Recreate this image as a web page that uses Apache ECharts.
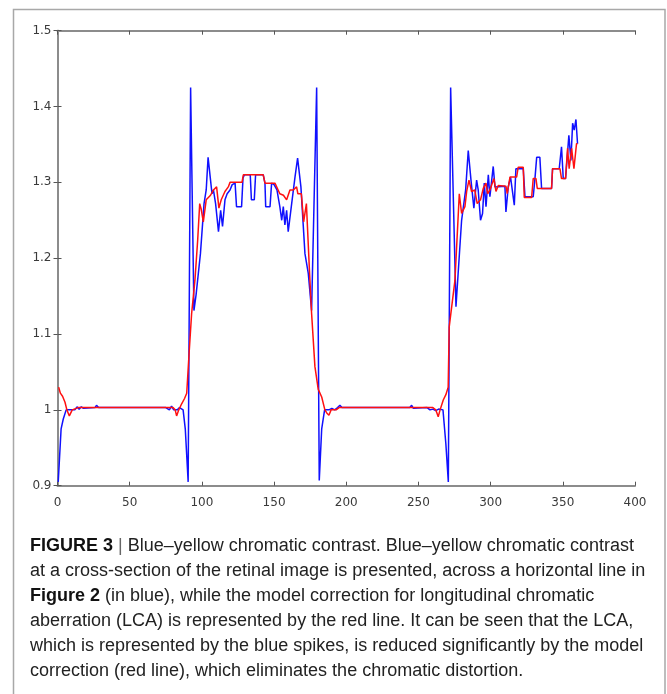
<!DOCTYPE html>
<html>
<head>
<meta charset="utf-8">
<script src="https://cdn.jsdelivr.net/npm/echarts@6/dist/echarts.min.js"></script>
<style>
html,body{margin:0;padding:0;background:#fff;}
#c{width:667px;height:694px;}
</style>
</head>
<body>
<div id="c"></div>
<script>
// x range and y range of the axes
const xMin = 0, xMax = 400, xStep = 50;
const yMin = 0.9, yMax = 1.5, yStep = 0.1;

// Blue: blue-yellow chromatic contrast across the cross-section
const blue = [
[0.5,0.905],[2.5,0.975],[4,0.988],[6,1.0],[10,1.0],[12,1.0],[13.5,1.004],[15,1.001],[16.5,1.004],[18,1.002],
[26,1.003],[27,1.006],[28.5,1.003],[75,1.003],[77.5,1.0],[79,1.005],[80.5,1.0],[83,1.0],[84.5,1.003],[87,1.0],
[88.5,0.975],[90.5,0.905],
[92.2,1.425],[94.5,1.131],[96,1.152],[97,1.15],[99,1.206],[101.5,1.272],[103,1.29],[104.3,1.333],[106,1.303],
[107,1.285],[108,1.29],[109.5,1.272],[111.5,1.235],[113,1.263],[114.3,1.242],[116,1.277],[117.5,1.285],[119.5,1.29],
[121,1.297],[123,1.299],[124,1.268],[127.5,1.268],[128.5,1.306],[129.5,1.31],[133.5,1.31],[134.3,1.277],[136.3,1.277],
[137.2,1.31],[142.5,1.31],[143.7,1.299],[144.2,1.268],[147.2,1.268],[148.3,1.299],[150,1.297],[152,1.29],[154,1.268],
[155.3,1.25],[156.4,1.268],[157.5,1.244],[158.7,1.263],[159.8,1.235],[162.2,1.272],[164.5,1.307],[166.3,1.332],
[168.6,1.294],[171.4,1.206],[173.7,1.18],[176,1.131],[179.5,1.425],[181.3,0.907],
[183,0.975],[185,1.0],[188,1.0],[190,1.002],[192,1.0],[194,1.003],[195.6,1.006],[197,1.003],[244,1.003],
[245.3,1.006],[246.5,1.002],[247.5,1.003],[256,1.003],[258,1.0],[260,1.001],[262,0.999],[264,1.001],[267,1.0],
[269,0.955],[270.7,0.905],
[272.3,1.425],[276,1.136],[279.9,1.25],[282.7,1.29],[284.5,1.342],[286.4,1.303],[288.4,1.266],[290.3,1.303],
[291.4,1.29],[293,1.25],[294.4,1.259],[295.6,1.299],[296.8,1.268],[298.4,1.31],[299.5,1.281],[301.8,1.321],
[303,1.294],[309.9,1.295],[310.6,1.261],[312.2,1.294],[313.8,1.307],[315,1.306],[316.4,1.27],[317.5,1.318],
[322.6,1.318],[323.8,1.281],[329.5,1.281],[330.7,1.305],[331.9,1.333],[334.1,1.333],[335.3,1.292],[342.2,1.292],
[342.9,1.318],[347.5,1.318],[349.1,1.347],[350.3,1.305],[351.9,1.305],[354.2,1.362],[355.6,1.329],[356.8,1.378],
[357.9,1.369],[359.1,1.383],[360.2,1.351]
];

// Red: model correction for longitudinal chromatic aberration
const red = [
[0.8,1.03],[2,1.022],[3.5,1.018],[5.2,1.01],[6.5,1.0],[8.2,0.992],[10.2,1.0],[11.5,1.0],[14.4,1.003],[80,1.003],
[81.5,1.0],[82.5,0.992],[84,1.0],[86,1.008],[88,1.015],[89.5,1.022],[91,1.07],[92.9,1.127],[95.2,1.171],[97.1,1.224],
[98.5,1.272],[99.5,1.265],[101,1.248],[103,1.277],[106,1.283],[108,1.29],[110.2,1.294],[111.8,1.266],[113.4,1.277],
[116,1.288],[118.3,1.294],[119.5,1.30],[127.8,1.30],[128.7,1.31],[142.5,1.31],[143.7,1.299],[150.6,1.299],[154,1.285],
[156.5,1.283],[158.7,1.277],[161,1.29],[163.3,1.29],[165.6,1.294],[166.5,1.285],[168.9,1.285],[170.5,1.248],
[172.4,1.272],[174.6,1.18],[176,1.127],[178.3,1.057],[180.6,1.027],[183,1.017],[185.2,1.0],[186.5,0.996],[188,0.993],
[189.5,1.0],[193,1.0],[195,1.003],[260,1.003],[262,1.0],[263.7,0.991],[265,1.0],[267.2,1.013],[269,1.02],[270.6,1.03],
[271.3,1.109],[275.3,1.171],[278.3,1.285],[279.9,1.259],[282.2,1.268],[283.4,1.288],[285,1.303],[286.8,1.288],
[289,1.29],[290.7,1.272],[293,1.277],[294.9,1.292],[296.8,1.299],[297.9,1.285],[299.5,1.29],[302.3,1.305],
[303.7,1.288],[305.3,1.296],[310.6,1.295],[311.5,1.285],[313.4,1.307],[318,1.307],[319.1,1.32],[322.6,1.32],
[323.3,1.28],[328.4,1.28],[329.5,1.305],[331.4,1.305],[332.3,1.292],[342.2,1.292],[342.9,1.318],[348,1.318],
[349.1,1.305],[351.9,1.305],[353.3,1.345],[354.4,1.318],[356.1,1.345],[357.7,1.318],[359.5,1.351],[360.2,1.351]
];

// Caption lines ({b|...} = bold)
const captionLines = [
  '{b|FIGURE 3} {g||} Blue–yellow chromatic contrast. Blue–yellow chromatic contrast',
  'at a cross-section of the retinal image is presented, across a horizontal line in',
  '{b|Figure 2} (in blue), while the model correction for longitudinal chromatic',
  'aberration (LCA) is represented by the red line. It can be seen that the LCA,',
  'which is represented by the blue spikes, is reduced significantly by the model',
  'correction (red line), which eliminates the chromatic distortion.'
];

const chart = echarts.init(document.getElementById('c'), null, {renderer:'canvas'});
const frameColor = '#8c8c8c';
const tickStyle = {show:true, inside:true, length:4, lineStyle:{color:'#555', width:1}};
const labelFont = {fontFamily:'DejaVu Sans', fontSize:12, color:'#3a3a3a'};
const capSize = 18;

const captionGraphics = captionLines.map((t, i) => ({
  type:'text', left:30, top:537 + i*25,
  style:{
    text:t, fontFamily:'Liberation Sans', fontSize:capSize, fill:'#222',
    rich:{ b:{fontWeight:'bold', fontFamily:'Liberation Sans', fontSize:capSize, fill:'#111'},
           g:{fontFamily:'Liberation Sans', fontSize:capSize, fill:'#666'} }
  }
}));

chart.setOption({
  animation:false,
  backgroundColor:'#fff',
  grid:{left:57.5, right:32, top:30.7, bottom:208.3, containLabel:false},
  xAxis:[
    {type:'value', min:xMin, max:xMax, interval:xStep, position:'bottom',
     axisLine:{show:true, lineStyle:{color:frameColor, width:2}},
     axisTick:tickStyle, splitLine:{show:false},
     axisLabel:Object.assign({margin:11}, labelFont)},
    {type:'value', min:xMin, max:xMax, interval:xStep, position:'top',
     axisLine:{show:true, lineStyle:{color:frameColor, width:2}},
     axisTick:tickStyle, splitLine:{show:false}, axisLabel:{show:false}}
  ],
  yAxis:[
    {type:'value', min:yMin, max:yMax, interval:yStep, position:'left',
     axisLine:{show:true, lineStyle:{color:frameColor, width:2}},
     axisTick:tickStyle, splitLine:{show:false},
     axisLabel:Object.assign({margin:6, formatter:v => String(+v.toFixed(1))}, labelFont)},
    {type:'value', min:yMin, max:yMax, interval:yStep, position:'right',
     axisLine:{show:true, lineStyle:{color:frameColor, width:2}},
     axisTick:tickStyle, splitLine:{show:false}, axisLabel:{show:false}}
  ],
  series:[
    {type:'line', name:'contrast', data:blue, showSymbol:false, symbol:'none',
     lineStyle:{color:'#1010ff', width:1.5}, xAxisIndex:0, yAxisIndex:0},
    {type:'line', name:'correction', data:red, showSymbol:false, symbol:'none',
     lineStyle:{color:'#ff1010', width:1.5}, xAxisIndex:0, yAxisIndex:0}
  ],
  graphic:[
    {type:'rect', shape:{x:13.5, y:9.5, width:651.5, height:700},
     style:{fill:'none', stroke:'#a8a8a8', lineWidth:1.5}, z:-1}
  ].concat(captionGraphics)
});
</script>
</body>
</html>
